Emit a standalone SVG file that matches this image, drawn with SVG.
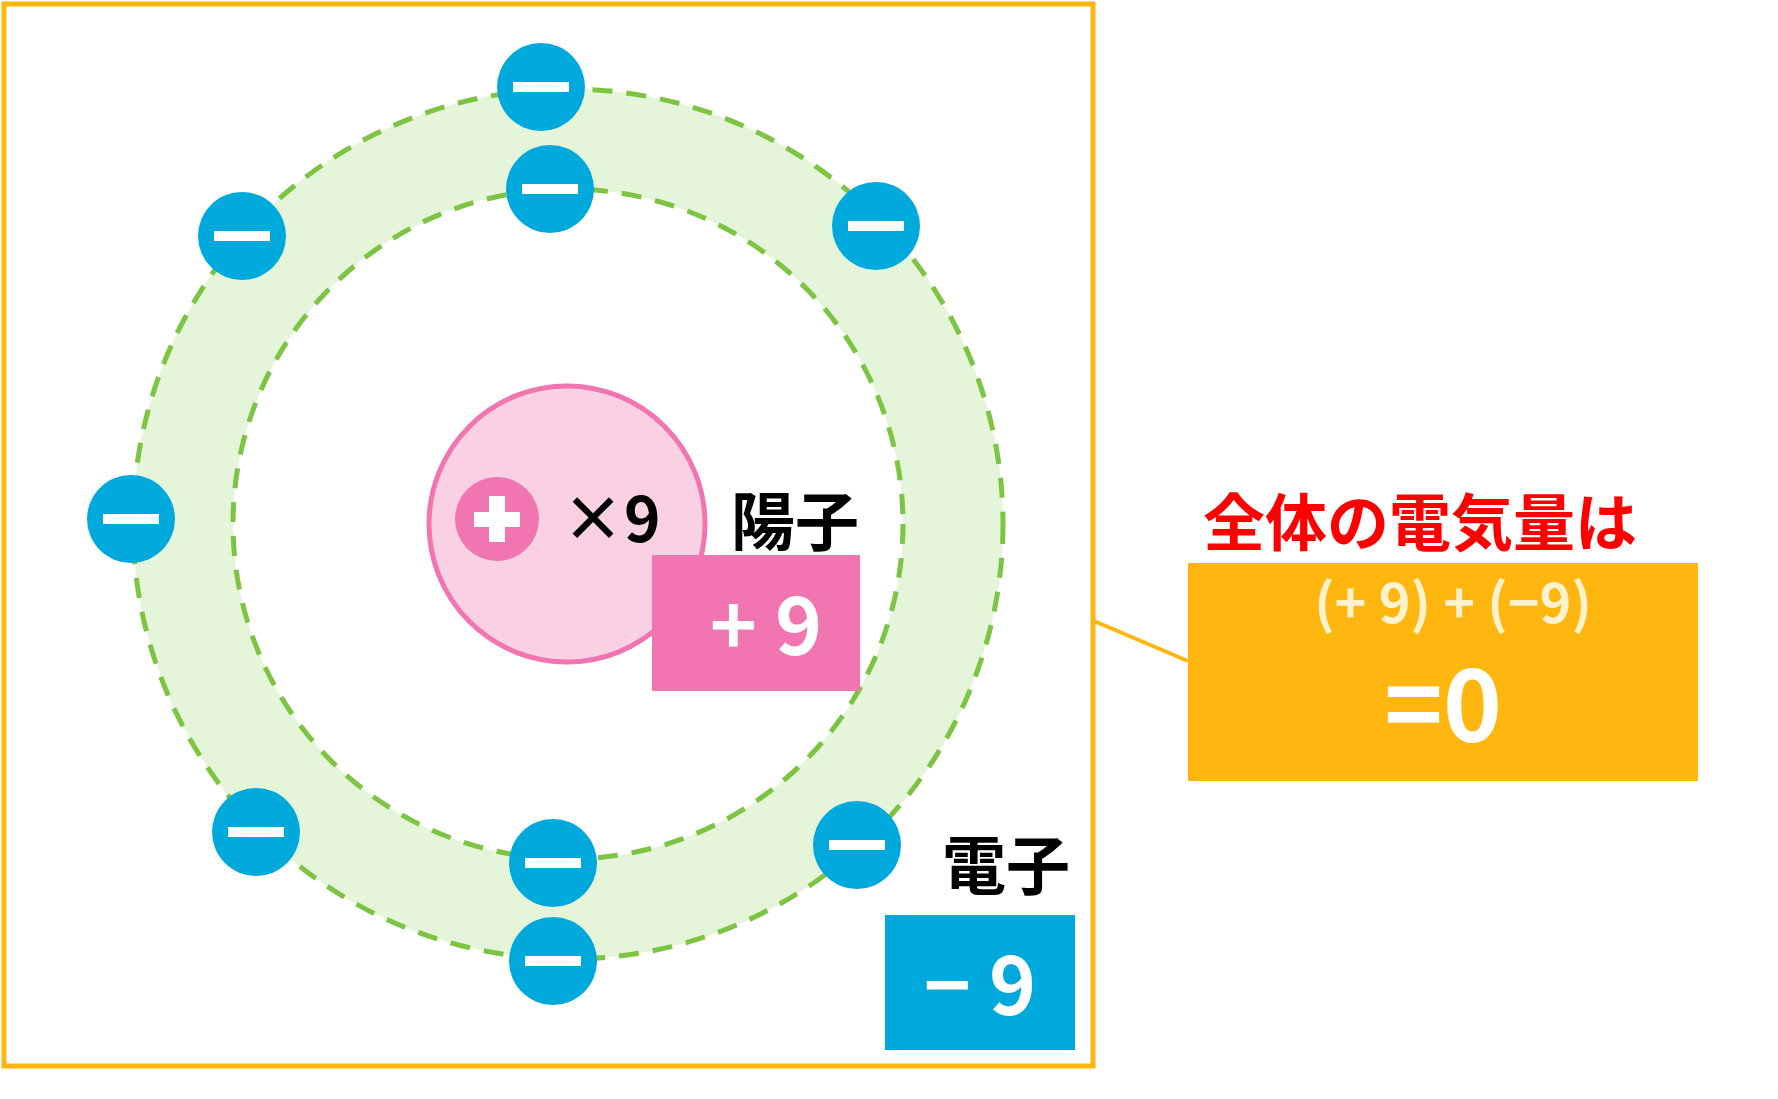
<svg xmlns="http://www.w3.org/2000/svg" width="1778" height="1099" viewBox="0 0 1778 1099">
<style>
.e{fill:#00A9DC}
.bar{fill:#fff}
.t{font-family:"Noto Sans CJK JP","Noto Sans",sans-serif;font-weight:bold}
.orb{fill:none;stroke:#7DC443;stroke-width:5;stroke-dasharray:20 14}
</style>
<defs>
<g id="el"><circle r="44" class="e"/><rect x="-28" y="-5" width="56" height="10" class="bar"/></g>
</defs>
<rect width="1778" height="1099" fill="#fff"/>
<rect x="4" y="4" width="1089" height="1062" fill="none" stroke="#FFB60F" stroke-width="5"/>
<g id="orbits">
<circle cx="568" cy="524" r="385" fill="none" stroke="#E5F5DA" stroke-width="100"/>
<circle cx="568" cy="524" r="435" class="orb"/>
<circle cx="568" cy="524" r="335" class="orb"/>
</g>
<g id="nucleus">
<circle cx="567" cy="524" r="138" fill="#FAD0E3" stroke="#F075B0" stroke-width="5"/>
<circle cx="497" cy="519" r="42" fill="#F075B0"/>
<rect x="474" y="512" width="46" height="15" fill="#fff"/>
<rect x="489" y="496" width="16" height="46" fill="#fff"/>
<text x="562" y="542" class="t" font-size="62" fill="#000">×9</text>
</g>
<g id="proton-label">
<text x="731" y="545" class="t" font-size="64" fill="#000">陽子</text>
<rect x="652" y="555" width="208" height="136" fill="#F075B0"/>
<text x="766" y="655" class="t" font-size="80" fill="#fff" text-anchor="middle">+ 9</text>
</g>
<g id="electrons">
<use href="#el" x="541" y="87"/>
<use href="#el" x="550" y="189"/>
<use href="#el" x="242" y="236"/>
<use href="#el" x="876" y="226"/>
<use href="#el" x="131" y="519"/>
<use href="#el" x="256" y="832"/>
<use href="#el" x="553" y="863"/>
<use href="#el" x="857" y="845"/>
<use href="#el" x="553" y="961"/>
</g>
<g id="electron-label">
<text x="942" y="889" class="t" font-size="64" fill="#000">電子</text>
<rect x="885" y="915" width="190" height="135" fill="#00A9DC"/>
<text x="980" y="1015" class="t" font-size="80" fill="#fff" text-anchor="middle">− 9</text>
</g>
<g id="connectors">
<line x1="1094" y1="621" x2="1188" y2="661" stroke="#FFB60F" stroke-width="4"/>
</g>
<g id="total">
<text x="1203" y="546" class="t" font-size="62" fill="#FF0000">全体の電気量は</text>
<rect x="1188" y="563" width="510" height="218" fill="#FFB60F"/>
<text x="1453" y="623" class="t" font-size="54" fill="#FFF2CC" text-anchor="middle">(+ 9) + (−9)</text>
<text x="1443" y="742" class="t" font-size="100" fill="#fff" text-anchor="middle">=0</text>
</g>
</svg>
